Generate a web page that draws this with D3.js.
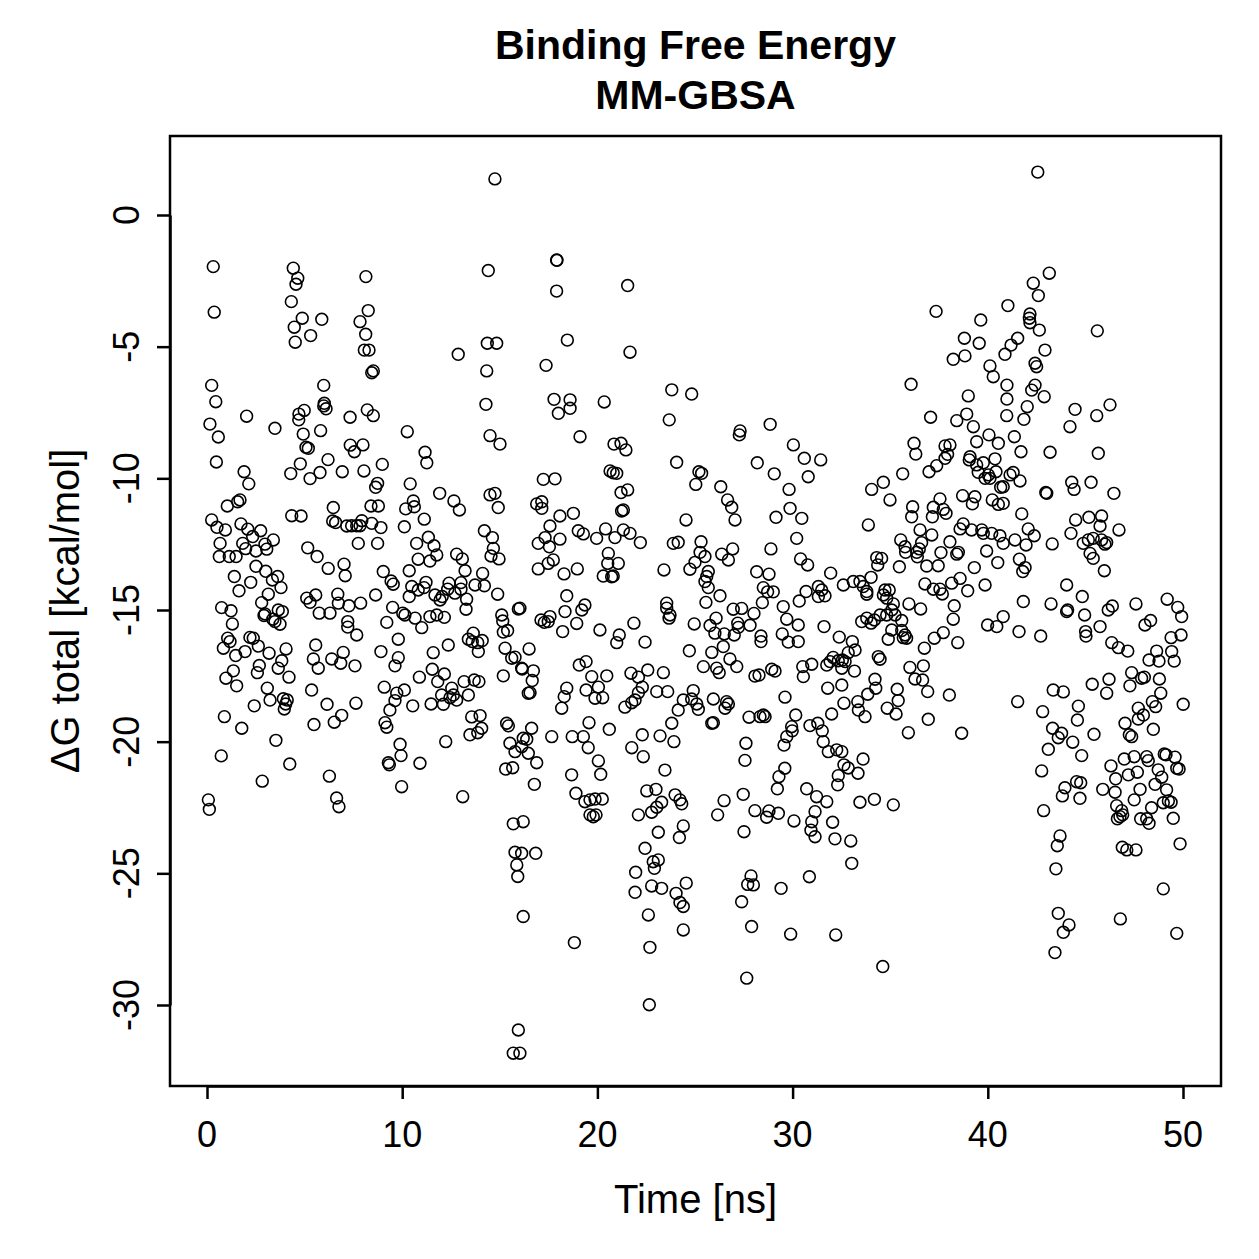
<html>
<head>
<style>
  body { margin: 0; background: white; }
  text { font-family: "Liberation Sans", Arial, Helvetica, sans-serif; fill: black; }
</style>
</head>
<body>
<svg id="chart"></svg>
<script src="https://cdn.jsdelivr.net/npm/d3@7"></script>
<script>
// sampled frames: [time (ns), dG total (kcal/mol)]
var framesA = [[0.32,-1.96],[4.42,-2.02],[4.65,-2.40],[4.56,-2.63],[0.37,-3.69],[4.32,-3.29],[4.88,-3.92],[5.88,-3.96],[4.47,-4.26],[5.31,-4.58],[4.52,-4.83],[8.14,-2.34],[8.26,-3.63],[7.84,-4.05],[8.13,-4.53],[8.06,-5.13],[8.30,-5.13],[0.24,-6.47],[0.45,-7.09],[2.03,-7.64],[0.15,-7.94],[0.58,-8.43],[3.48,-8.10],[5.98,-6.47],[6.01,-7.15],[5.98,-7.25],[6.10,-7.36],[4.98,-7.42],[4.71,-7.56],[4.70,-7.78],[4.93,-8.32],[5.82,-8.19],[5.07,-8.82],[5.19,-8.86],[7.33,-7.68],[8.21,-7.40],[8.52,-7.62],[7.34,-8.74],[7.55,-8.99],[7.99,-8.73],[0.48,-9.38],[1.90,-9.75],[2.14,-10.21],[4.78,-9.45],[6.20,-9.29],[4.29,-9.82],[5.28,-10.01],[5.79,-9.78],[6.93,-9.75],[8.04,-9.72],[1.04,-11.05],[1.57,-10.89],[1.69,-10.82],[0.24,-11.58],[0.51,-11.86],[0.94,-11.96],[1.74,-11.73],[2.09,-11.93],[2.75,-11.99],[2.34,-12.21],[1.83,-12.47],[1.98,-12.67],[2.51,-12.76],[2.97,-12.50],[3.06,-12.69],[3.40,-12.34],[0.67,-12.47],[0.63,-12.97],[1.14,-12.97],[1.49,-12.97],[2.51,-13.34],[3.01,-13.53],[3.35,-13.86],[3.62,-13.73],[3.79,-14.15],[1.40,-13.73],[1.64,-14.27],[2.24,-13.95],[3.14,-14.40],[2.80,-14.72],[0.75,-14.91],[1.23,-15.03],[2.97,-15.15],[3.65,-15.00],[3.86,-15.06],[4.34,-11.42],[4.82,-11.43],[5.16,-12.64],[5.64,-12.97],[6.21,-13.42],[7.02,-13.26],[7.08,-13.70],[6.47,-11.11],[6.44,-11.62],[6.59,-11.68],[7.16,-11.81],[7.41,-11.80],[7.67,-11.80],[7.84,-11.80],[7.93,-11.61],[7.75,-12.47],[5.11,-14.55],[5.28,-14.71],[5.57,-14.43],[5.75,-15.12],[6.30,-15.12],[6.70,-14.40],[6.73,-14.74],[7.27,-14.84],[7.87,-14.74]];
var framesB = [[1.30,-15.53],[2.92,-15.21],[3.37,-15.35],[3.48,-15.44],[3.74,-15.54],[7.21,-15.44],[7.21,-15.65],[7.67,-15.95],[1.06,-16.07],[1.18,-16.20],[0.84,-16.45],[1.47,-16.73],[1.95,-16.58],[2.20,-16.04],[2.37,-16.07],[2.63,-16.37],[3.18,-16.64],[4.05,-16.48],[3.83,-16.93],[3.65,-17.21],[4.20,-17.55],[2.68,-17.11],[2.58,-17.38],[1.35,-17.31],[0.97,-17.59],[1.52,-17.88],[3.09,-17.97],[3.23,-18.42],[3.91,-18.37],[4.11,-18.42],[4.03,-18.57],[3.96,-18.76],[2.42,-18.64],[5.57,-16.33],[5.45,-16.86],[5.70,-17.21],[6.39,-16.86],[6.85,-17.02],[6.98,-16.61],[7.58,-17.12],[5.36,-18.04],[6.15,-18.58],[7.63,-18.54],[6.90,-19.00],[6.52,-19.26],[5.48,-19.35],[0.89,-19.05],[1.78,-19.49],[3.53,-19.95],[0.73,-20.54],[4.24,-20.85],[2.83,-21.50],[6.27,-21.31],[0.07,-22.21],[0.12,-22.57],[6.64,-22.14],[6.76,-22.47]];
var framesC = [[14.75,1.37],[14.41,-2.11],[12.87,-5.29],[14.36,-4.87],[14.84,-4.87],[14.33,-5.92],[14.29,-7.19],[14.50,-8.38],[15.01,-8.70],[8.44,-5.99],[8.52,-5.92],[10.26,-8.23],[11.17,-9.01],[11.26,-9.41],[8.98,-9.47],[8.74,-10.19],[8.64,-10.34],[10.41,-10.21],[11.92,-10.57],[12.65,-10.86],[12.93,-11.20],[10.57,-10.86],[10.62,-11.08],[10.18,-11.16],[14.50,-10.63],[14.75,-10.57],[14.92,-11.11],[8.40,-11.05],[8.78,-11.05],[11.13,-11.55],[10.11,-11.84],[8.91,-11.87],[8.44,-11.71],[14.21,-11.99],[14.62,-12.25],[8.74,-12.47],[10.74,-12.47],[11.34,-12.24],[11.63,-12.56],[11.77,-12.91],[11.42,-13.14],[10.82,-13.07],[12.79,-12.88],[13.08,-13.06],[13.22,-13.51],[14.67,-12.66],[14.55,-12.95],[14.96,-13.06],[10.36,-13.51],[9.03,-13.54],[9.43,-13.90],[9.54,-14.02],[14.12,-13.61],[13.73,-14.05],[14.21,-14.08],[10.49,-14.11],[10.36,-14.49],[10.82,-14.24],[11.12,-14.15],[11.22,-13.95],[11.68,-14.43],[11.94,-14.62],[12.05,-14.49],[12.40,-13.98],[12.33,-14.21],[12.70,-14.36],[13.01,-13.96],[13.01,-14.21],[13.30,-14.59],[14.89,-14.40],[8.64,-14.43],[9.51,-14.90],[10.03,-15.12],[10.14,-15.19],[13.27,-14.97],[15.10,-15.19],[15.95,-14.96]];
var framesD = [[10.66,-15.31],[11.00,-15.67],[11.42,-15.25],[11.77,-15.19],[12.16,-15.28],[9.21,-15.47],[15.15,-15.42],[15.40,-15.78],[15.18,-15.84],[9.80,-16.11],[8.91,-16.58],[9.80,-16.81],[9.63,-17.12],[11.59,-16.62],[12.36,-16.33],[13.39,-16.11],[13.64,-15.88],[13.59,-16.20],[13.87,-16.24],[14.10,-16.16],[13.90,-16.58],[15.27,-16.45],[15.61,-16.83],[11.54,-17.25],[12.16,-17.43],[11.82,-17.72],[10.88,-17.55],[9.08,-17.93],[9.72,-18.16],[10.11,-18.04],[9.63,-18.44],[9.37,-18.80],[10.54,-18.64],[11.48,-18.57],[12.02,-18.23],[12.11,-18.58],[12.54,-17.97],[12.62,-18.23],[12.79,-18.42],[12.45,-18.33],[13.17,-17.72],[13.39,-18.23],[13.69,-17.66],[13.93,-17.72],[15.18,-17.50],[16.12,-17.21],[9.12,-19.28],[9.21,-19.45],[13.56,-19.06],[13.99,-19.01],[14.07,-19.49],[13.87,-19.66],[13.47,-19.74],[15.35,-19.30],[15.44,-19.40],[12.23,-20.00],[9.89,-20.10],[9.94,-20.53],[9.29,-20.80],[9.34,-20.88],[10.91,-20.82],[15.52,-20.06],[15.78,-20.38],[16.20,-19.87],[16.12,-20.19],[15.30,-21.04],[15.66,-20.99],[9.97,-21.71],[13.10,-22.09],[15.69,-23.12],[16.20,-23.04],[15.78,-24.20],[16.12,-24.24],[15.87,-24.68],[15.92,-25.12],[16.20,-26.64],[15.95,-30.95],[15.69,-31.83],[16.03,-31.83]];
var framesE = [[17.91,-1.71],[17.93,-1.72],[17.91,-2.89],[21.55,-2.68],[18.46,-4.75],[21.67,-5.21],[17.37,-5.71],[23.81,-6.64],[23.68,-7.78],[17.78,-7.00],[18.60,-7.02],[18.00,-7.53],[18.60,-7.34],[20.35,-7.10],[19.11,-8.42],[20.85,-8.70],[21.21,-8.67],[21.46,-8.92],[24.06,-9.39],[20.65,-9.72],[20.81,-9.79],[20.99,-9.81],[17.23,-10.04],[17.83,-10.02],[21.21,-10.54],[21.55,-10.44],[16.89,-10.97],[17.15,-10.89],[17.15,-11.14],[21.24,-11.24],[21.33,-11.20],[18.08,-11.43],[18.77,-11.33],[17.57,-11.81],[19.02,-11.99],[19.28,-12.11],[20.42,-11.92],[20.90,-12.25],[19.96,-12.28],[21.33,-11.96],[21.67,-12.09],[22.20,-12.44],[24.54,-11.58],[16.97,-12.47],[17.32,-12.25],[17.54,-12.60],[18.08,-12.31],[23.89,-12.47],[24.14,-12.43],[20.56,-12.85],[20.53,-13.23],[21.07,-13.23],[20.30,-13.71],[20.73,-13.74],[20.81,-13.71],[16.97,-13.44],[17.48,-13.23],[17.74,-13.10],[18.29,-13.63],[18.97,-13.44],[23.41,-13.48],[16.03,-14.93],[18.43,-14.46],[18.34,-15.06],[19.20,-15.00],[19.36,-14.81],[17.11,-15.38],[17.57,-15.25],[23.55,-14.74],[23.55,-14.93],[23.72,-15.19]];
var framesF = [[17.28,-15.47],[17.48,-15.44],[18.22,-15.82],[18.94,-15.51],[20.13,-15.76],[21.12,-15.95],[20.99,-16.24],[21.87,-15.50],[22.44,-16.22],[23.67,-15.31],[16.50,-16.48],[15.78,-16.79],[16.15,-17.24],[16.72,-17.31],[16.66,-17.68],[16.46,-18.16],[16.55,-18.14],[19.07,-17.09],[19.42,-16.96],[19.71,-17.53],[20.48,-17.50],[20.05,-17.93],[18.43,-17.97],[18.30,-18.29],[18.17,-18.73],[19.42,-18.04],[19.88,-18.35],[20.27,-18.33],[21.72,-17.40],[22.10,-17.55],[22.58,-17.28],[23.38,-17.38],[22.30,-17.93],[22.10,-18.14],[21.93,-18.42],[21.76,-18.52],[21.41,-18.69],[23.04,-18.10],[23.60,-18.10],[24.40,-18.42],[24.14,-18.80],[23.81,-19.30],[16.63,-19.49],[16.38,-19.91],[16.46,-20.44],[16.89,-20.80],[17.66,-19.81],[18.71,-19.81],[19.28,-19.81],[19.53,-20.23],[19.57,-19.28],[20.61,-19.53],[20.05,-20.73],[20.17,-21.24],[18.68,-21.26],[16.77,-21.62],[22.30,-19.74],[23.21,-19.78],[23.92,-20.00],[21.76,-20.23],[22.35,-20.57],[23.46,-21.08],[18.90,-21.96],[19.36,-22.28],[19.62,-22.21],[19.88,-22.18],[20.25,-22.18],[19.62,-22.78],[19.79,-22.85],[19.93,-22.78],[22.53,-21.87],[23.00,-21.81],[22.10,-22.78],[22.78,-22.68],[23.04,-22.49],[23.29,-22.30],[23.98,-22.02],[24.23,-22.21],[24.32,-22.36],[24.40,-23.20],[24.20,-23.64],[23.12,-23.44],[22.44,-24.05],[22.86,-24.56],[23.12,-24.49],[22.92,-24.81],[21.96,-24.96],[21.93,-25.72],[22.78,-25.48],[23.29,-25.57],[24.03,-25.76],[24.23,-26.11],[24.40,-26.26],[24.40,-27.15],[24.55,-25.37],[16.84,-24.24],[18.82,-27.63],[22.61,-26.58],[22.69,-27.81],[22.66,-29.99]];
var framesG = [[24.83,-6.80],[28.85,-7.95],[27.31,-8.20],[27.27,-8.35],[30.04,-8.73],[30.60,-9.24],[31.44,-9.30],[30.80,-9.94],[28.19,-9.41],[29.06,-9.83],[25.20,-9.75],[25.34,-9.81],[25.04,-10.23],[26.32,-10.32],[26.67,-10.82],[26.88,-11.10],[27.05,-11.58],[29.82,-10.42],[29.87,-11.14],[30.47,-11.52],[29.15,-11.48],[25.31,-12.41],[25.26,-12.81],[25.51,-12.97],[25.00,-13.19],[24.74,-13.45],[25.68,-13.54],[25.60,-13.73],[25.51,-13.92],[25.68,-14.15],[26.37,-12.88],[26.71,-13.10],[26.93,-12.68],[28.89,-12.68],[30.21,-12.28],[30.41,-13.06],[30.77,-13.29],[28.16,-13.55],[28.79,-13.64],[28.50,-14.15],[28.72,-14.31],[29.01,-14.31],[26.28,-14.46],[25.56,-14.71],[26.96,-14.97],[27.39,-14.94],[28.02,-15.13],[28.45,-14.72],[29.52,-14.87],[30.34,-14.66],[30.69,-14.30],[31.32,-14.11],[31.49,-14.24],[31.66,-14.46],[31.32,-14.49],[31.95,-13.60],[32.60,-14.05]];
var framesH = [[24.96,-15.53],[25.77,-15.59],[26.02,-15.88],[26.08,-15.31],[26.50,-15.91],[26.45,-16.39],[27.01,-15.95],[27.19,-15.50],[27.22,-15.66],[27.82,-15.58],[28.38,-15.99],[28.38,-16.20],[29.47,-15.91],[29.70,-15.35],[29.78,-16.22],[30.29,-15.57],[30.29,-16.20],[31.61,-15.63],[32.39,-16.03],[24.71,-16.55],[25.86,-16.61],[25.43,-17.15],[26.11,-17.21],[26.24,-17.38],[26.79,-16.86],[27.14,-17.15],[28.07,-17.51],[28.28,-17.47],[28.93,-17.25],[29.10,-17.32],[30.52,-17.15],[30.55,-17.53],[30.98,-17.06],[31.75,-17.09],[31.92,-16.96],[32.08,-16.80],[32.34,-16.93],[32.52,-17.21],[32.52,-17.85],[31.80,-17.97],[32.63,-18.54],[29.61,-18.31],[32.00,-18.95],[24.91,-18.06],[24.83,-18.38],[25.09,-18.57],[25.17,-18.77],[25.94,-18.38],[26.62,-18.48],[26.71,-18.57],[26.54,-18.73],[25.86,-19.30],[25.94,-19.28],[27.77,-19.07],[28.33,-19.05],[28.50,-18.99],[28.59,-19.05],[30.16,-18.99],[29.95,-19.43],[29.98,-19.59],[29.70,-19.81],[29.56,-20.13],[30.89,-19.39],[31.29,-19.30],[31.52,-19.59],[31.57,-20.00],[31.83,-20.38],[32.26,-20.31],[32.52,-20.38],[27.61,-20.06],[27.56,-20.71],[32.63,-20.88],[32.34,-21.29],[32.31,-21.64],[29.60,-21.01],[29.30,-21.33],[29.22,-21.79],[30.72,-21.79],[31.23,-22.09],[31.75,-22.28],[31.15,-22.66],[27.47,-22.00],[26.49,-22.24],[26.16,-22.78],[28.07,-22.62],[28.79,-22.63],[28.67,-22.87],[29.27,-22.72],[30.07,-23.01],[30.98,-23.04],[30.94,-23.36],[31.15,-23.61],[32.05,-23.06],[32.17,-23.69],[27.51,-23.42],[27.87,-25.10],[27.70,-25.42],[27.99,-25.44],[29.41,-25.57],[30.86,-25.13],[27.39,-26.08],[27.90,-27.02],[29.90,-27.31],[32.21,-27.34],[27.65,-28.98]];
var framesI = [[37.35,-3.66],[39.64,-3.99],[38.80,-4.68],[39.56,-4.87],[38.23,-5.48],[38.83,-5.35],[41.03,-3.44],[40.88,-5.29],[40.11,-5.73],[40.28,-6.14],[36.07,-6.43],[39.00,-6.87],[40.98,-6.46],[40.98,-6.99],[40.97,-7.62],[37.07,-7.68],[38.41,-7.81],[38.92,-7.56],[39.26,-8.04],[36.22,-8.67],[36.31,-9.08],[37.81,-8.77],[38.06,-8.73],[37.94,-9.09],[37.81,-9.24],[37.38,-9.52],[36.99,-9.75],[35.64,-9.83],[34.65,-10.15],[34.05,-10.42],[34.99,-10.82],[40.06,-8.35],[40.54,-8.67],[39.43,-8.61],[39.09,-9.18],[39.05,-9.30],[39.43,-9.49],[39.77,-9.41],[40.37,-9.26],[39.51,-9.77],[40.03,-9.87],[39.86,-10.00],[40.11,-10.00],[40.42,-9.75],[40.66,-10.34],[40.79,-10.32],[38.71,-10.66],[39.34,-10.70],[39.21,-10.97],[40.23,-10.82],[40.54,-10.99],[40.79,-10.95],[36.15,-11.08],[36.10,-11.46],[37.55,-10.78],[37.21,-11.10],[37.72,-11.18],[37.86,-11.33],[37.16,-11.46],[33.88,-11.77],[36.53,-11.96],[37.13,-12.15],[35.54,-12.34],[35.76,-12.60],[35.79,-12.81],[36.36,-12.81],[36.49,-12.68],[36.61,-12.44],[36.39,-12.98],[38.06,-12.41],[37.60,-12.82],[38.41,-12.88],[38.49,-12.81],[38.74,-11.73],[38.58,-11.92],[39.17,-11.96],[39.69,-11.96],[39.77,-12.09],[40.20,-12.09],[40.62,-12.18],[40.79,-12.47],[39.94,-12.76],[40.51,-13.20],[34.31,-13.01],[34.56,-13.04],[34.36,-13.29],[35.47,-13.36],[36.87,-13.33],[37.46,-13.32],[39.31,-13.39],[33.11,-13.92],[33.45,-13.92],[33.62,-14.11],[33.80,-14.30],[33.80,-14.40],[34.02,-13.76],[34.73,-14.24],[34.95,-14.24],[34.65,-14.43],[34.82,-14.55],[35.16,-14.77],[35.96,-14.77],[36.56,-14.96],[36.78,-14.01],[37.21,-14.21],[37.55,-14.21],[37.67,-14.39],[38.15,-13.98],[38.58,-13.80],[38.97,-14.27],[39.86,-14.05],[38.28,-14.84]];
var framesJ = [[38.23,-15.35],[33.54,-15.44],[33.80,-15.31],[34.02,-15.50],[34.19,-15.38],[34.48,-15.19],[34.82,-15.19],[35.08,-15.00],[35.25,-15.19],[35.59,-15.40],[35.08,-15.76],[34.90,-16.11],[35.59,-15.78],[35.67,-16.05],[35.84,-16.07],[35.76,-15.95],[36.75,-16.45],[37.26,-16.07],[37.72,-15.86],[38.46,-16.24],[39.99,-15.57],[40.46,-15.63],[40.79,-15.25],[33.06,-16.20],[33.20,-16.52],[32.85,-16.62],[32.55,-16.90],[32.69,-16.96],[33.17,-17.32],[34.39,-16.77],[34.48,-16.87],[34.22,-17.63],[34.26,-17.97],[33.85,-18.20],[36.01,-17.18],[36.70,-17.12],[36.27,-17.62],[36.66,-17.66],[36.92,-18.10],[35.36,-18.01],[35.41,-18.44],[34.85,-18.73],[35.30,-18.95],[38.03,-18.23],[33.34,-18.48],[33.37,-18.80],[33.71,-19.05],[36.95,-19.15],[35.93,-19.66],[38.66,-19.68],[32.85,-21.00],[33.61,-20.66],[33.35,-21.20],[33.45,-22.30],[34.19,-22.19],[35.16,-22.40],[32.98,-23.77],[33.03,-24.62],[34.62,-28.54]];
var framesK = [[42.56,1.63],[43.15,-2.21],[42.33,-2.59],[42.59,-3.06],[42.16,-3.76],[42.13,-3.92],[42.16,-4.09],[42.64,-4.37],[45.61,-4.40],[42.93,-5.13],[41.53,-4.68],[41.19,-4.94],[42.42,-5.63],[42.50,-5.76],[42.42,-6.46],[42.25,-6.65],[42.89,-6.90],[42.02,-7.28],[41.85,-7.76],[44.47,-7.38],[44.21,-8.04],[45.58,-7.62],[46.26,-7.21],[41.36,-8.42],[41.70,-8.99],[43.19,-9.01],[45.66,-9.05],[41.14,-9.87],[41.30,-9.78],[41.65,-10.10],[42.97,-10.54],[43.02,-10.57],[44.30,-10.15],[44.42,-10.42],[45.29,-10.15],[46.46,-10.57],[41.74,-11.35],[42.07,-11.92],[42.38,-12.18],[41.39,-12.34],[41.96,-12.53],[41.62,-13.07],[41.79,-13.54],[41.91,-13.39],[43.30,-12.49],[44.50,-11.58],[44.26,-12.09],[45.18,-11.48],[45.83,-11.43],[45.75,-11.81],[46.72,-11.96],[44.89,-12.47],[45.15,-12.34],[45.40,-12.28],[45.83,-12.34],[46.00,-12.50],[46.09,-12.44],[45.24,-12.85],[45.40,-13.04],[45.97,-13.51],[44.04,-14.05],[41.82,-14.68],[43.24,-14.77],[44.84,-14.49],[44.04,-15.06],[44.09,-15.00],[44.96,-15.19],[46.17,-15.00],[46.38,-14.85],[47.59,-14.77],[49.19,-14.59],[49.73,-14.90],[49.93,-15.25]];
var framesL = [[41.60,-15.82],[42.71,-15.99],[45.01,-15.82],[45.03,-15.99],[45.75,-15.63],[46.35,-16.24],[46.69,-16.43],[47.17,-16.56],[48.05,-15.57],[48.34,-15.40],[49.39,-16.05],[49.90,-15.95],[49.42,-16.58],[49.55,-16.94],[48.65,-16.56],[48.26,-16.90],[48.77,-16.94],[47.37,-17.38],[47.28,-17.88],[47.88,-17.59],[48.02,-17.55],[48.79,-17.62],[48.86,-18.16],[46.21,-17.63],[46.09,-18.16],[45.35,-17.82],[43.35,-18.04],[43.87,-18.11],[41.53,-18.48],[42.81,-18.86],[44.64,-18.65],[44.59,-19.18],[48.43,-18.48],[48.60,-18.67],[47.71,-18.73],[47.97,-18.99],[47.71,-19.14],[50.01,-18.58],[47.03,-19.30],[47.25,-19.74],[47.37,-19.81],[48.48,-19.53],[43.32,-19.49],[43.78,-19.68],[43.61,-19.85],[44.35,-20.02],[43.10,-20.29],[45.44,-19.72],[44.81,-20.53],[42.76,-21.11],[46.31,-20.92],[46.99,-20.66],[47.50,-20.57],[48.14,-20.57],[48.22,-20.72],[49.04,-20.47],[49.13,-20.50],[49.59,-20.59],[49.68,-21.01],[49.80,-21.04],[47.20,-21.26],[47.66,-21.16],[46.55,-21.41],[48.73,-21.07],[48.91,-21.35],[48.57,-21.62],[47.80,-21.81],[47.50,-22.21],[49.16,-21.83],[48.39,-22.51],[48.99,-22.32],[49.25,-22.25],[49.39,-22.30],[45.89,-21.81],[46.52,-21.92],[46.60,-22.43],[46.86,-22.62],[46.91,-22.78],[46.64,-22.93],[46.77,-22.85],[47.83,-22.93],[48.14,-22.93],[48.26,-23.10],[49.50,-22.91],[44.55,-21.52],[44.76,-21.56],[43.95,-21.75],[43.82,-22.06],[44.72,-22.15],[42.86,-22.62],[43.70,-23.58],[43.56,-23.95],[43.49,-24.83],[46.89,-24.01],[47.12,-24.11],[47.59,-24.11],[49.85,-23.88],[48.99,-25.59],[43.61,-26.52],[44.16,-26.96],[43.87,-27.24],[46.79,-26.73],[49.68,-27.28],[43.44,-28.01]];

var xTicks = [0, 10, 20, 30, 40, 50];
var yTicks = [0, -5, -10, -15, -20, -25, -30];

var frames = [].concat(framesA, framesB, framesC, framesD, framesE, framesF,
                       framesG, framesH, framesI, framesJ, framesK, framesL);

var width = 1259, height = 1259;
var box = { left: 170, right: 1221, top: 136, bottom: 1086 };

var svg = d3.select("#chart").attr("width", width).attr("height", height);

var x = d3.scaleLinear().domain([0, 50]).range([207, 1183]);
var y = d3.scaleLinear().domain([0, -30]).range([215, 1005]);

// points
svg.append("g")
  .selectAll("circle")
  .data(frames)
  .join("circle")
  .attr("cx", d => x(d[0]))
  .attr("cy", d => y(d[1]))
  .attr("r", 5.9)
  .attr("fill", "none")
  .attr("stroke", "black")
  .attr("stroke-width", 1.6);

// plot box
svg.append("rect")
  .attr("x", box.left).attr("y", box.top)
  .attr("width", box.right - box.left).attr("height", box.bottom - box.top)
  .attr("fill", "none").attr("stroke", "black").attr("stroke-width", 2.5);

// x axis
var xAxis = svg.append("g")
  .attr("transform", "translate(0," + box.bottom + ")")
  .call(d3.axisBottom(x).tickValues(xTicks).tickSize(13).tickSizeOuter(0).tickFormat(""));
xAxis.select(".domain").attr("stroke-width", 2.5);
xAxis.selectAll(".tick line").attr("stroke-width", 2.5);

svg.append("g").selectAll("text")
  .data(xTicks)
  .join("text")
  .attr("x", d => x(d))
  .attr("y", 1147)
  .attr("text-anchor", "middle")
  .attr("font-size", "36px")
  .text(d => d);

// y axis
var yAxis = svg.append("g")
  .attr("transform", "translate(" + box.left + ",0)")
  .call(d3.axisLeft(y).tickValues(yTicks).tickSize(13).tickSizeOuter(0).tickFormat(""));
yAxis.select(".domain").attr("stroke-width", 2.5);
yAxis.selectAll(".tick line").attr("stroke-width", 2.5);

svg.append("g").selectAll("text")
  .data(yTicks)
  .join("text")
  .attr("transform", d => "translate(139," + y(d) + ") rotate(-90)")
  .attr("text-anchor", "middle")
  .attr("font-size", "36px")
  .text(d => d);

// titles
var cx = (box.left + box.right) / 2;
svg.append("text").attr("x", cx).attr("y", 59)
  .attr("text-anchor", "middle").attr("font-size", "41px").attr("font-weight", "bold")
  .text("Binding Free Energy");
svg.append("text").attr("x", cx).attr("y", 109)
  .attr("text-anchor", "middle").attr("font-size", "41px").attr("font-weight", "bold")
  .text("MM-GBSA");

svg.append("text").attr("x", cx).attr("y", 1213)
  .attr("text-anchor", "middle").attr("font-size", "40px")
  .text("Time [ns]");

svg.append("text")
  .attr("transform", "translate(79," + (box.top + box.bottom) / 2 + ") rotate(-90)")
  .attr("text-anchor", "middle").attr("font-size", "40px")
  .text("ΔG total [kcal/mol]");
</script>
</body>
</html>
